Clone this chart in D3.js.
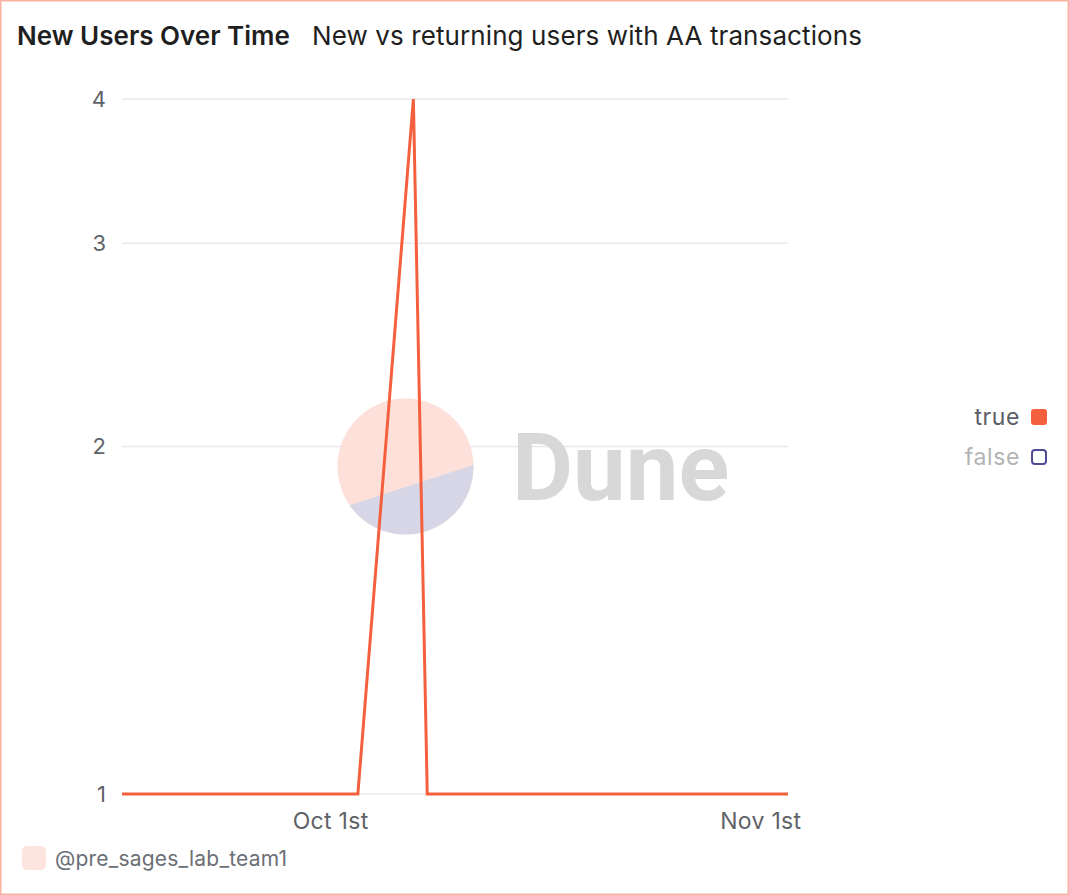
<!DOCTYPE html>
<html><head><meta charset="utf-8">
<script src="https://cdn.jsdelivr.net/npm/d3@7/dist/d3.min.js"></script>
<style>
html,body{margin:0;padding:0;background:#fff;}
svg{display:block;font-family:"Inter","Noto Sans",sans-serif;}
</style></head>
<body>
<svg id="c" width="1069" height="895"></svg>
<script>
// ---- data ----
const dates = ["2023-09-16","2023-10-03","2023-10-07","2023-10-08","2023-11-03"];
const trueValues = [1,1,4,1,1];
const seriesNames = ["true","false"];
const yTicks = [1,2,3,4];
const xTickDates = ["2023-10-01","2023-11-01"];
const xTickLabels = ["Oct 1st","Nov 1st"];
const titleText = "New Users Over Time";
const subtitleText = "New vs returning users with AA transactions";
const ownerText = "@pre_sages_lab_team1";

const parse = d3.timeParse("%Y-%m-%d");
const pts = dates.map((d,i)=>({date:parse(d), v:trueValues[i]}));

const svg = d3.select("#c");
const W=1069,H=895;
svg.append("rect").attr("x",0.75).attr("y",0.75).attr("width",W-1.5).attr("height",H-1.5)
  .attr("fill","#fff").attr("stroke","#f8b2a2").attr("stroke-width",1.5);

svg.append("text").attr("x",17).attr("y",45).attr("font-size",26).attr("font-weight",600)
  .attr("fill","#1f1f1f").text(titleText);
svg.append("text").attr("x",312).attr("y",45).attr("font-size",26).attr("font-weight",400)
  .attr("fill","#1f1f1f").attr("letter-spacing",0.1).text(subtitleText);

const x = d3.scaleTime().domain([parse(dates[0]), parse(dates[dates.length-1])]).range([122,788]);
const y = d3.scaleLog().domain([1,4]).range([794,99]);

// grid
svg.append("g").selectAll("line").data(yTicks).join("line")
  .attr("x1",122).attr("x2",788).attr("y1",d=>y(d)).attr("y2",d=>y(d))
  .attr("stroke","#e8e8ee").attr("stroke-width",1.5);

// watermark
const wm = svg.append("g").attr("transform","translate(405.5,466.5)");
const R=68;
const a1 = Math.atan2(505.5-466.5, 349-405.5);
const a2 = Math.atan2(465-466.5, 474-405.5);
const p1=[R*Math.cos(a1),R*Math.sin(a1)], p2=[R*Math.cos(a2),R*Math.sin(a2)];
wm.append("circle").attr("r",R).attr("fill","#fde0d9");
wm.append("path").attr("d",`M${p2[0]},${p2[1]} A${R},${R} 0 0 1 ${p1[0]},${p1[1]} Z`).attr("fill","#d6d6e6");
svg.append("text").attr("x",512).attr("y",500).attr("font-family","Roboto,sans-serif")
  .attr("font-weight",700).attr("font-size",94).attr("fill","#d8d8d8").text("Dune");

// y axis
const yAxis = d3.axisLeft(y).tickValues(yTicks).tickFormat(d3.format("d")).tickSize(0).tickPadding(0);
const ya = svg.append("g").attr("transform","translate(106,0)").call(yAxis);
ya.select(".domain").remove();
ya.selectAll("text").attr("font-size",22).attr("fill","#5f6368").attr("font-family","Inter,sans-serif");

// x axis
const xAxis = d3.axisBottom(x).tickValues(xTickDates.map(parse)).tickFormat((d,i)=>xTickLabels[i]).tickSize(0).tickPadding(0);
const xa = svg.append("g").attr("transform","translate(0,829)").call(xAxis);
xa.select(".domain").remove();
xa.selectAll("text").attr("font-size",23).attr("fill","#5f6368").attr("font-family","Inter,sans-serif")
  .attr("dy",0).attr("y",0).attr("letter-spacing",0.3);

// line
const line = d3.line().x(d=>x(d.date)).y(d=>y(d.v));
svg.append("path").datum(pts).attr("d",line).attr("fill","none")
  .attr("stroke","#f4603e").attr("stroke-width",3).attr("stroke-linejoin","miter").attr("stroke-miterlimit",20);

// legend
const lg = svg.append("g");
const legColors = ["#f4603e","#4e4b99"];
seriesNames.forEach((n,i)=>{
  const yy = 417 + i*40;
  lg.append("text").attr("x",1020).attr("y",yy+8).attr("text-anchor","end").attr("font-size",23)
    .attr("letter-spacing",0.6).attr("fill", i===0?"#5a5e66":"#b3b3b3").text(n);
  if(i===0){
    lg.append("rect").attr("x",1031).attr("y",yy-8).attr("width",16).attr("height",16).attr("rx",3).attr("fill",legColors[i]);
  } else {
    lg.append("rect").attr("x",1032).attr("y",yy-7).attr("width",14).attr("height",14).attr("rx",3)
      .attr("fill","#fff").attr("stroke",legColors[i]).attr("stroke-width",2);
  }
});

// footer
svg.append("rect").attr("x",22).attr("y",846).attr("width",24).attr("height",24).attr("rx",5).attr("fill","#fde4de");
svg.append("text").attr("x",55).attr("y",866).attr("font-size",21).attr("letter-spacing",0.2).attr("fill","#6b6f76").text(ownerText);
</script>
</body></html>
